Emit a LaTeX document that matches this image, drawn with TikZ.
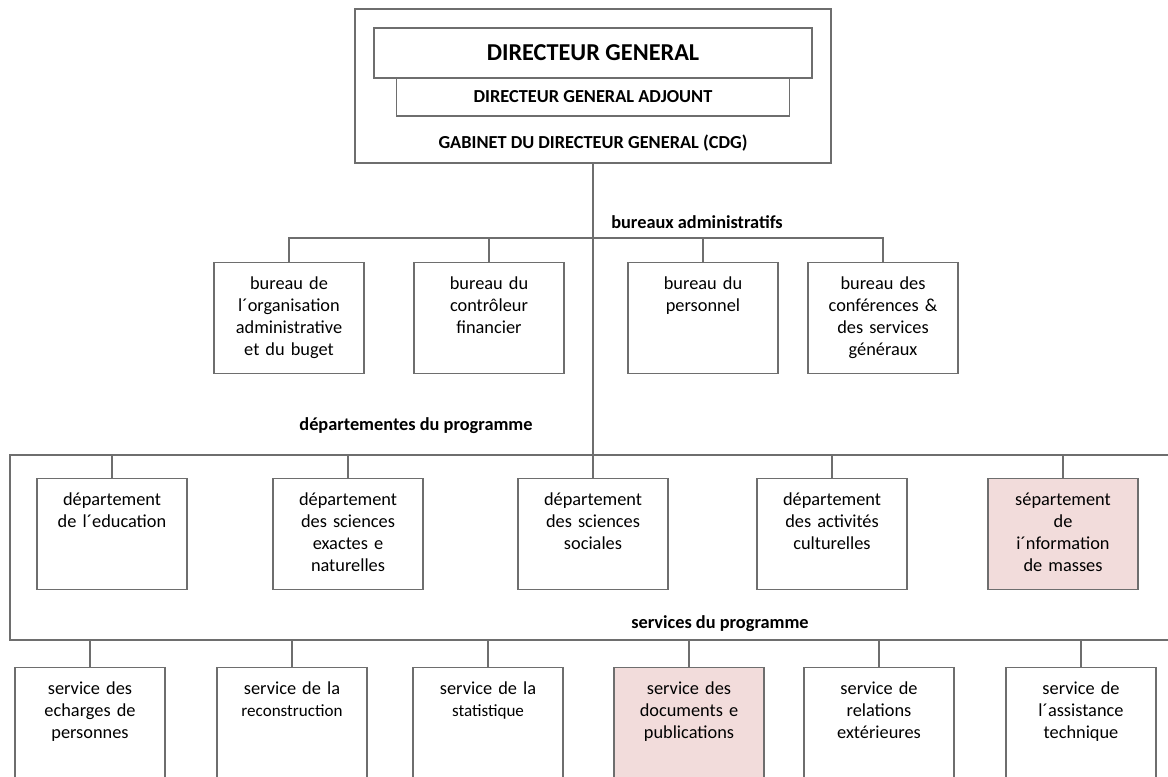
\documentclass[tikz,border=0pt]{standalone}
\usepackage{fontspec}
\setmainfont{Carlito}
\usepackage{xcolor}
\definecolor{framegray}{RGB}{110,110,110}
\definecolor{pinkfill}{RGB}{242,220,219}

\begin{document}
\begin{tikzpicture}[x=0.75pt,y=0.75pt,yscale=-1,xscale=1,
  every node/.style={font=\fontsize{13.75pt}{16.5pt}\selectfont},
  wire/.style={draw=framegray,line width=1.1pt},
  unitbox/.style={draw=framegray,line width=1.1pt,fill=white,inner sep=0pt,anchor=north,
    text width=112.5pt,align=center,text height=20.25pt,text depth=63pt},
  tallbox/.style={unitbox,text depth=77.25pt},
  pinkbox/.style={fill=pinkfill},
  heading/.style={font=\fontsize{13.75pt}{16.5pt}\selectfont\bfseries,inner sep=0pt}]
\useasboundingbox (0,0) rectangle (1168,776);
\fill [white] (0,0) rectangle (1168,776);
\clip (0,0) rectangle (1168,776);

%Shape: Rectangle [cabinet]
\node [draw=framegray,line width=1.1pt,minimum width=357pt,minimum height=115.5pt,inner sep=0pt] (cabinet) at (593,86) {};
%Shape: Rectangle [directeur general]
\node [draw=framegray,line width=1.1pt,fill=white,minimum width=328.5pt,minimum height=37.5pt,inner sep=0pt,font=\fontsize{18.2pt}{21pt}\selectfont\bfseries] (dg) at (593,53) {DIRECTEUR GENERAL};
%Shape: Rectangle [adjoint]
\node [draw=framegray,line width=1.1pt,fill=white,minimum width=294.75pt,minimum height=28.5pt,inner sep=0pt,font=\fontsize{13.75pt}{16.5pt}\selectfont\bfseries] (dga) at (593,97) {DIRECTEUR GENERAL ADJOUNT};
% Text Node
\node [heading] (cdg) at (593,143) {GABINET DU DIRECTEUR GENERAL (CDG)};

%Shape: Rectangle [programme frame]
\node [draw=framegray,line width=1.1pt,minimum width=877.5pt,minimum height=138.75pt,inner sep=0pt] (progFrame) at (595,547.5) {};

% bureaux administratifs
\node [unitbox] (bOrg) at (289,262) {bureau de\\l´organisation\\administrative\\et du buget};
\node [unitbox] (bCtrl) at (489,262) {bureau du\\contrôleur\\financier};
\node [unitbox] (bPers) at (703,262) {bureau du\\personnel};
\node [unitbox] (bConf) at (883,262) {bureau des\\conférences \&\\des services\\généraux};

% departements du programme
\node [unitbox] (dEdu) at (112,478) {département\\de l´education};
\node [unitbox] (dExact) at (348,478) {département\\des sciences\\exactes e\\naturelles};
\node [unitbox] (dSoc) at (593,478) {département\\des sciences\\sociales};
\node [unitbox] (dCult) at (832,478) {département\\des activités\\culturelles};
\node [unitbox,pinkbox] (dInfo) at (1063,478) {sépartement\\de\\i´nformation\\de masses};

% services du programme
\node [tallbox] (sPers) at (90,667) {service des\\echarges de\\personnes};
\node [tallbox] (sRecon) at (292,667) {service de la\\{\fontsize{12.8pt}{16.5pt}\selectfont reconstruction}};
\node [tallbox] (sStat) at (488,667) {service de la\\{\fontsize{12.8pt}{16.5pt}\selectfont statistique}};
\node [tallbox,pinkbox] (sDocs) at (689,667) {service des\\documents e\\publications};
\node [tallbox] (sRel) at (879,667) {service de\\relations\\extérieures};
\node [tallbox] (sTech) at (1081,667) {service de\\l´assistance\\technique};

% Text Node
\node [heading] (lblBureaux) at (697,222) {bureaux administratifs};
% Text Node
\node [heading] (lblDepts) at (416,426) {départementes du programme};
% Text Node
\node [heading] (lblServices) at (720,624) {services du programme};

%Straight Lines
\draw [wire] (cabinet.south) -- (dSoc.north);
\coordinate (busBureaux) at (593,238);
\draw [wire] (bOrg.north) |- (busBureaux) -| (bConf.north);
\foreach \b in {bCtrl,bPers}
  \draw [wire] (\b.north) -- (\b.north |- busBureaux);
\foreach \d in {dEdu,dExact,dCult,dInfo}
  \draw [wire] (\d.north) -- (\d.north |- progFrame.north);
\foreach \s in {sPers,sRecon,sStat,sDocs,sRel,sTech}
  \draw [wire] (\s.north) -- (\s.north |- progFrame.south);

\end{tikzpicture}
\end{document}
